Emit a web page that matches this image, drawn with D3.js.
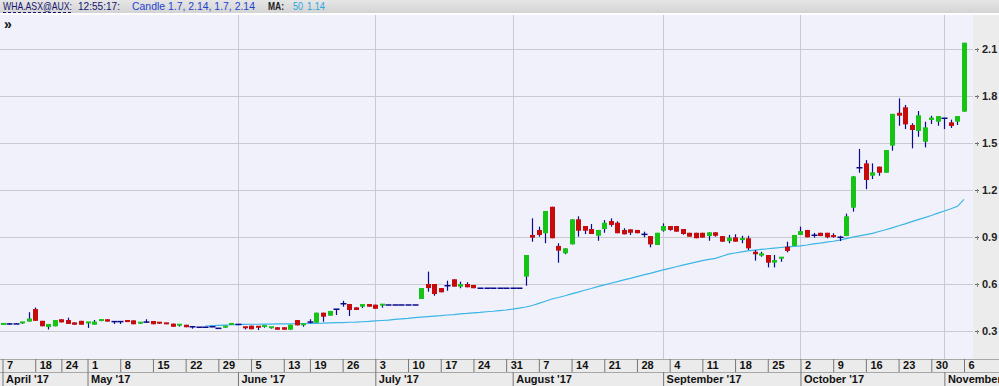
<!DOCTYPE html>
<html>
<head>
<meta charset="utf-8">
<script src="https://cdn.jsdelivr.net/npm/d3@7"></script>
<style>
body { margin: 0; background: #fff; overflow: hidden; }
svg { display: block; font-family: "Liberation Sans", Arial, sans-serif; }
</style>
</head>
<body>
<svg id="chart" width="999" height="386"></svg>
<script>
// trading calendar (ASX) shown on the chart
const firstDay = "2017-04-07", lastDay = "2017-11-06";
const holidays = ["2017-04-14", "2017-04-17", "2017-04-25", "2017-06-12"];

// daily OHLC, one value per trading day
const open = [
  .340,.345,.345,.345,.360,.440,.365,.325,.330,.375,.370,.355,.365,.345,.340,.362,.375,.360,.360,.370,
  .368,.345,.357,.364,.353,.349,.347,.332,.340,.327,.324,.324,.327,.317,.321,.338,.342,.324,.334,.327,
  .321,.315,.324,.324,.308,.370,.334,.357,.353,.417,.398,.439,.474,.472,.451,.455,.472,.468,.458,.466,
  .466,.466,.466,.466,.504,.600,.600,.574,.589,.630,.583,.600,.594,.573,.573,.573,.573,.573,.573,.573,
  .647,.913,.945,.924,1.093,.843,.796,.853,1.013,.970,.951,.908,.951,1.002,.991,.945,.949,.945,.917,.906,
  .849,.940,.970,.970,.951,.927,.927,.927,.906,.930,.906,.874,.898,.876,.892,.806,.781,.785,.736,.758,
  .838,.843,.913,.945,.911,.927,.927,.906,.898,.906,1.087,1.342,1.370,1.291,1.349,1.310,1.483,1.693,1.728,1.615,
  1.577,1.508,1.647,1.636,1.658,1.632,1.636,1.700
];
const high = [
  .345,.350,.350,.355,.420,.450,.365,.345,.370,.375,.385,.355,.365,.355,.370,.370,.375,.360,.360,.370,
  .368,.353,.375,.364,.353,.349,.347,.345,.340,.327,.324,.324,.327,.317,.334,.345,.342,.327,.334,.327,
  .332,.324,.324,.324,.340,.370,.343,.375,.417,.417,.428,.439,.493,.472,.451,.472,.472,.468,.468,.466,
  .466,.466,.466,.466,.574,.679,.600,.574,.621,.630,.615,.611,.594,.573,.573,.573,.573,.573,.573,.573,
  .785,1.019,.966,1.066,1.093,.860,.828,1.013,1.032,.970,.983,.945,1.008,1.019,1.000,.956,.949,.945,.934,.906,
  .927,.987,.970,.970,.951,.927,.927,.927,.930,.930,.906,.913,.917,.908,.908,.817,.806,.785,.785,.768,
  .870,.913,.966,.945,.926,.927,.927,.924,.908,1.049,1.290,1.462,1.391,1.370,1.349,1.455,1.686,1.785,1.743,1.626,
  1.704,1.636,1.674,1.672,1.658,1.649,1.672,2.140
];
const low = [
  .340,.340,.345,.345,.360,.365,.330,.310,.330,.355,.345,.340,.340,.320,.340,.362,.360,.345,.345,.357,
  .343,.345,.352,.343,.345,.343,.327,.328,.324,.315,.324,.324,.327,.317,.321,.338,.342,.310,.311,.306,
  .321,.315,.308,.308,.308,.336,.327,.349,.353,.359,.398,.402,.455,.396,.434,.447,.455,.442,.449,.466,
  .466,.466,.466,.466,.504,.551,.525,.547,.557,.583,.573,.579,.573,.573,.573,.573,.573,.573,.573,.573,
  .589,.870,.902,.860,.892,.736,.790,.853,.902,.919,.919,.876,.927,.966,.924,.917,.913,.924,.898,.834,
  .849,.934,.940,.934,.915,.902,.892,.896,.876,.902,.870,.860,.870,.860,.817,.749,.774,.706,.706,.742,
  .802,.843,.913,.898,.896,.906,.892,.896,.874,.906,1.062,1.310,1.205,1.270,1.291,1.310,1.451,1.610,1.589,1.466,
  1.540,1.472,1.621,1.610,1.589,1.596,1.615,1.700
];
const close = [
  .345,.345,.345,.355,.380,.365,.330,.345,.370,.355,.345,.340,.340,.355,.360,.370,.360,.360,.360,.357,
  .343,.353,.357,.343,.345,.343,.327,.340,.324,.327,.324,.324,.327,.317,.334,.345,.342,.313,.311,.317,
  .332,.324,.308,.308,.340,.336,.343,.357,.417,.391,.428,.439,.474,.434,.434,.472,.455,.442,.468,.466,
  .466,.466,.466,.466,.574,.574,.536,.547,.589,.583,.600,.579,.573,.573,.573,.573,.573,.573,.573,.573,
  .785,.896,.913,1.066,.892,.813,.828,1.013,.940,.940,.919,.945,.991,.977,.924,.917,.927,.924,.917,.853,
  .927,.970,.945,.934,.919,.902,.892,.896,.930,.908,.870,.896,.870,.887,.828,.790,.796,.736,.753,.768,
  .811,.913,.938,.898,.911,.906,.898,.896,.898,1.032,1.287,1.342,1.264,1.313,1.310,1.455,1.686,1.674,1.619,1.583,
  1.677,1.600,1.662,1.672,1.658,1.609,1.672,2.140
];

// 50-day moving average, starts at trading day index maStart
const maStart = 31;
const ma50 = [
  .332,.334,.336,.338,.340,.341,.342,.343,.343,.344,.344,.345,.345,.346,.347,.348,.348,.349,.350,.352,
  .353,.354,.356,.357,.359,.361,.364,.367,.370,.374,.378,.381,.385,.389,.392,.395,.398,.402,.405,.409,
  .412,.416,.419,.423,.426,.430,.434,.440,.446,.453,.463,.476,.490,.504,.514,.525,.537,.548,.560,.571,
  .583,.594,.605,.615,.626,.636,.647,.658,.668,.679,.690,.700,.710,.720,.730,.740,.749,.757,.764,.777,
  .791,.798,.805,.811,.816,.821,.825,.829,.833,.837,.840,.843,.849,.856,.861,.867,.873,.880,.890,.899,
  .907,.915,.923,.935,.946,.958,.972,.984,.998,1.011,1.024,1.037,1.052,1.066,1.080,1.096,1.140
];

// axis ticks
const yTicks = [0.3, 0.6, 0.9, 1.2, 1.5, 1.8, 2.1];
const weekTicks = ["2017-04-07","2017-04-18","2017-04-24","2017-05-01","2017-05-08","2017-05-15","2017-05-22",
  "2017-05-29","2017-06-05","2017-06-13","2017-06-19","2017-06-26","2017-07-03","2017-07-10","2017-07-17",
  "2017-07-24","2017-07-31","2017-08-07","2017-08-14","2017-08-21","2017-08-28","2017-09-04","2017-09-11",
  "2017-09-18","2017-09-25","2017-10-02","2017-10-09","2017-10-16","2017-10-23","2017-10-30","2017-11-06"];
const monthTicks = ["2017-04-07","2017-05-01","2017-06-01","2017-07-03","2017-08-01","2017-09-01","2017-10-02","2017-11-01"];
const monthLabels = ["April '17","May '17","June '17","July '17","August '17","September '17","October '17","November '17"];
const gridMonths = ["2017-06-01","2017-07-03","2017-08-01","2017-09-01","2017-10-02","2017-11-01"];

const parse = d3.timeParse("%Y-%m-%d"), key = d3.timeFormat("%Y-%m-%d");
const days = d3.timeDay.range(parse(firstDay), d3.timeDay.offset(parse(lastDay), 1))
  .filter(d => d.getDay() > 0 && d.getDay() < 6 && !holidays.includes(key(d)))
  .map(key);

const svg = d3.select("#chart"),
   W = 999, plotR = 973, plotT = 15, plotB = 359;

const x = d3.scalePoint().domain(days).range([2.5, 964]);
const y = d3.scaleLinear().domain([0.3, 2.1]).range([331, 49]);

// header bar
const grad = svg.append("defs").append("linearGradient").attr("id", "hdr").attr("x2", 0).attr("y2", 1);
grad.append("stop").attr("offset", 0).attr("stop-color", "#e6e6e6");
grad.append("stop").attr("offset", 1).attr("stop-color", "#d4d4d4");
svg.append("rect").attr("width", W).attr("height", 13).attr("fill", "url(#hdr)");

// header items squeezed to the narrow widths of the original UI font
const header = [
   { t: "WHA.ASX@AUX:", x: 3, w: 69, c: "#14146e", b: false },
   { t: "12:55:17:", x: 78, w: 42, c: "#14146e", b: false },
   { t: "Candle 1.7, 2.14, 1.7, 2.14", x: 132, w: 123, c: "#1f3fcf", b: false },
   { t: "MA:", x: 268, w: 16, c: "#222", b: true },
   { t: "50", x: 293, w: 10, c: "#2aa6de", b: false },
   { t: "1.14", x: 307, w: 18, c: "#2aa6de", b: false }
];
svg.selectAll(".hdr").data(header).enter().append("text")
   .attr("font-size", 11)
   .attr("font-weight", d => d.b ? "bold" : "normal")
   .attr("fill", d => d.c).text(d => d.t)
   .attr("transform", function (d) {
      const nat = this.getComputedTextLength();
      return "translate(" + d.x + ",10) scale(" + Math.min(1, d.w / nat) + ",1)";
   });
svg.append("line").attr("x1", 3).attr("x2", 72).attr("y1", 12.5).attr("y2", 12.5)
   .attr("stroke", "#14146e").attr("stroke-dasharray", "3,2");

// plot and axis panels
svg.append("rect").attr("x", 0).attr("y", plotT).attr("width", plotR).attr("height", plotB - plotT).attr("fill", "#f0f1fb");
svg.append("rect").attr("x", plotR).attr("y", plotT).attr("width", W - plotR).attr("height", plotB - plotT).attr("fill", "#ececec");

svg.append("text").attr("x", 4).attr("y", 29).attr("font-size", 14).attr("font-weight", "bold").attr("fill", "#111").text("»");

// grid
const grid = svg.append("g");
grid.selectAll(".hg").data(yTicks).enter().append("line")
   .attr("x1", 0).attr("x2", plotR)
   .attr("y1", d => Math.round(y(d)) + 0.5).attr("y2", d => Math.round(y(d)) + 0.5)
   .attr("stroke", "#c9c9cf");
grid.selectAll(".vg").data(gridMonths).enter().append("line")
   .attr("x1", d => Math.round(x(d)) + 0.5).attr("x2", d => Math.round(x(d)) + 0.5)
   .attr("y1", plotT).attr("y2", plotB)
   .attr("stroke", "#c9c9cf");

// moving average
const maLine = d3.line().x(d => x(d.d)).y(d => y(d.v));
svg.append("path")
   .datum(ma50.map((v, i) => ({ d: days[maStart + i], v: v })))
   .attr("d", maLine).attr("fill", "none").attr("stroke", "#3ab6e6").attr("stroke-width", 1.2);

// candles
const bars = days.map((d, i) => ({ d: d, o: open[i], h: high[i], l: low[i], c: close[i] }));
const cg = svg.append("g").selectAll("g").data(bars).enter().append("g");
cg.append("line")
   .attr("x1", d => Math.round(x(d.d)) + 0.5).attr("x2", d => Math.round(x(d.d)) + 0.5)
   .attr("y1", d => y(d.h)).attr("y2", d => y(d.l))
   .attr("stroke", "#0a0a8c").attr("stroke-width", 1.2);
cg.filter(d => d.o !== d.c).append("rect")
   .attr("x", d => Math.round(x(d.d)) - 2)
   .attr("width", 5)
   .attr("y", d => Math.min(y(d.o), y(d.c)) - (Math.abs(y(d.o) - y(d.c)) < 2 ? 1 : 0))
   .attr("height", d => Math.max(2, Math.abs(y(d.o) - y(d.c))))
   .attr("fill", d => d.c > d.o ? "#16c416" : "#c80a0a");
cg.filter(d => d.o === d.c).append("line")
   .attr("x1", d => Math.round(x(d.d)) - 2.5).attr("x2", d => Math.round(x(d.d)) + 3.5)
   .attr("y1", d => y(d.c)).attr("y2", d => y(d.c))
   .attr("stroke", "#0a0a8c").attr("stroke-width", 1.5);

// right price axis
const ya = svg.append("g").attr("transform", "translate(" + (plotR + 2) + ",0)")
   .call(d3.axisRight(y).tickValues(yTicks).tickSize(4).tickPadding(3).tickFormat(d3.format(".1f")));
ya.select(".domain").remove();
ya.selectAll(".tick line").attr("stroke", "#666");
ya.selectAll(".tick").append("line").attr("x1", 2.5).attr("x2", 2.5).attr("y1", -1.5).attr("y2", 2.5).attr("stroke", "#888");
ya.selectAll("text").attr("font-size", 11).attr("font-weight", "bold").attr("fill", "#222")
   .attr("font-family", "'Liberation Sans', Arial, sans-serif");

// date rows
svg.append("rect").attr("x", 0).attr("y", plotB).attr("width", W).attr("height", 386 - plotB).attr("fill", "#ebebeb");
svg.append("line").attr("x1", 0).attr("x2", W).attr("y1", plotB + 0.5).attr("y2", plotB + 0.5).attr("stroke", "#a8a8a8");
svg.append("line").attr("x1", 0).attr("x2", W).attr("y1", 372.5).attr("y2", 372.5).attr("stroke", "#a8a8a8");

const da = svg.append("g").attr("transform", "translate(0," + plotB + ")")
   .call(d3.axisBottom(x).tickValues(weekTicks).tickSize(13).tickPadding(0)
      .tickFormat(d => String(+d.slice(8))));
da.select(".domain").remove();
da.selectAll(".tick line").attr("stroke", "#777");
da.selectAll("text").attr("text-anchor", "start").attr("x", 4).attr("y", 10).attr("dy", 0)
   .attr("font-size", 11).attr("font-weight", "bold").attr("fill", "#111")
   .attr("font-family", "'Liberation Sans', Arial, sans-serif");

const ma = svg.append("g").attr("transform", "translate(0,372)")
   .call(d3.axisBottom(x).tickValues(monthTicks).tickSize(14).tickPadding(0)
      .tickFormat((d, i) => monthLabels[i]));
ma.select(".domain").remove();
ma.selectAll(".tick line").attr("stroke", "#777");
ma.selectAll("text").attr("text-anchor", "start").attr("x", 3).attr("y", 11).attr("dy", 0)
   .attr("font-size", 11).attr("font-weight", "bold").attr("fill", "#111")
   .attr("font-family", "'Liberation Sans', Arial, sans-serif");
</script>
</body>
</html>
